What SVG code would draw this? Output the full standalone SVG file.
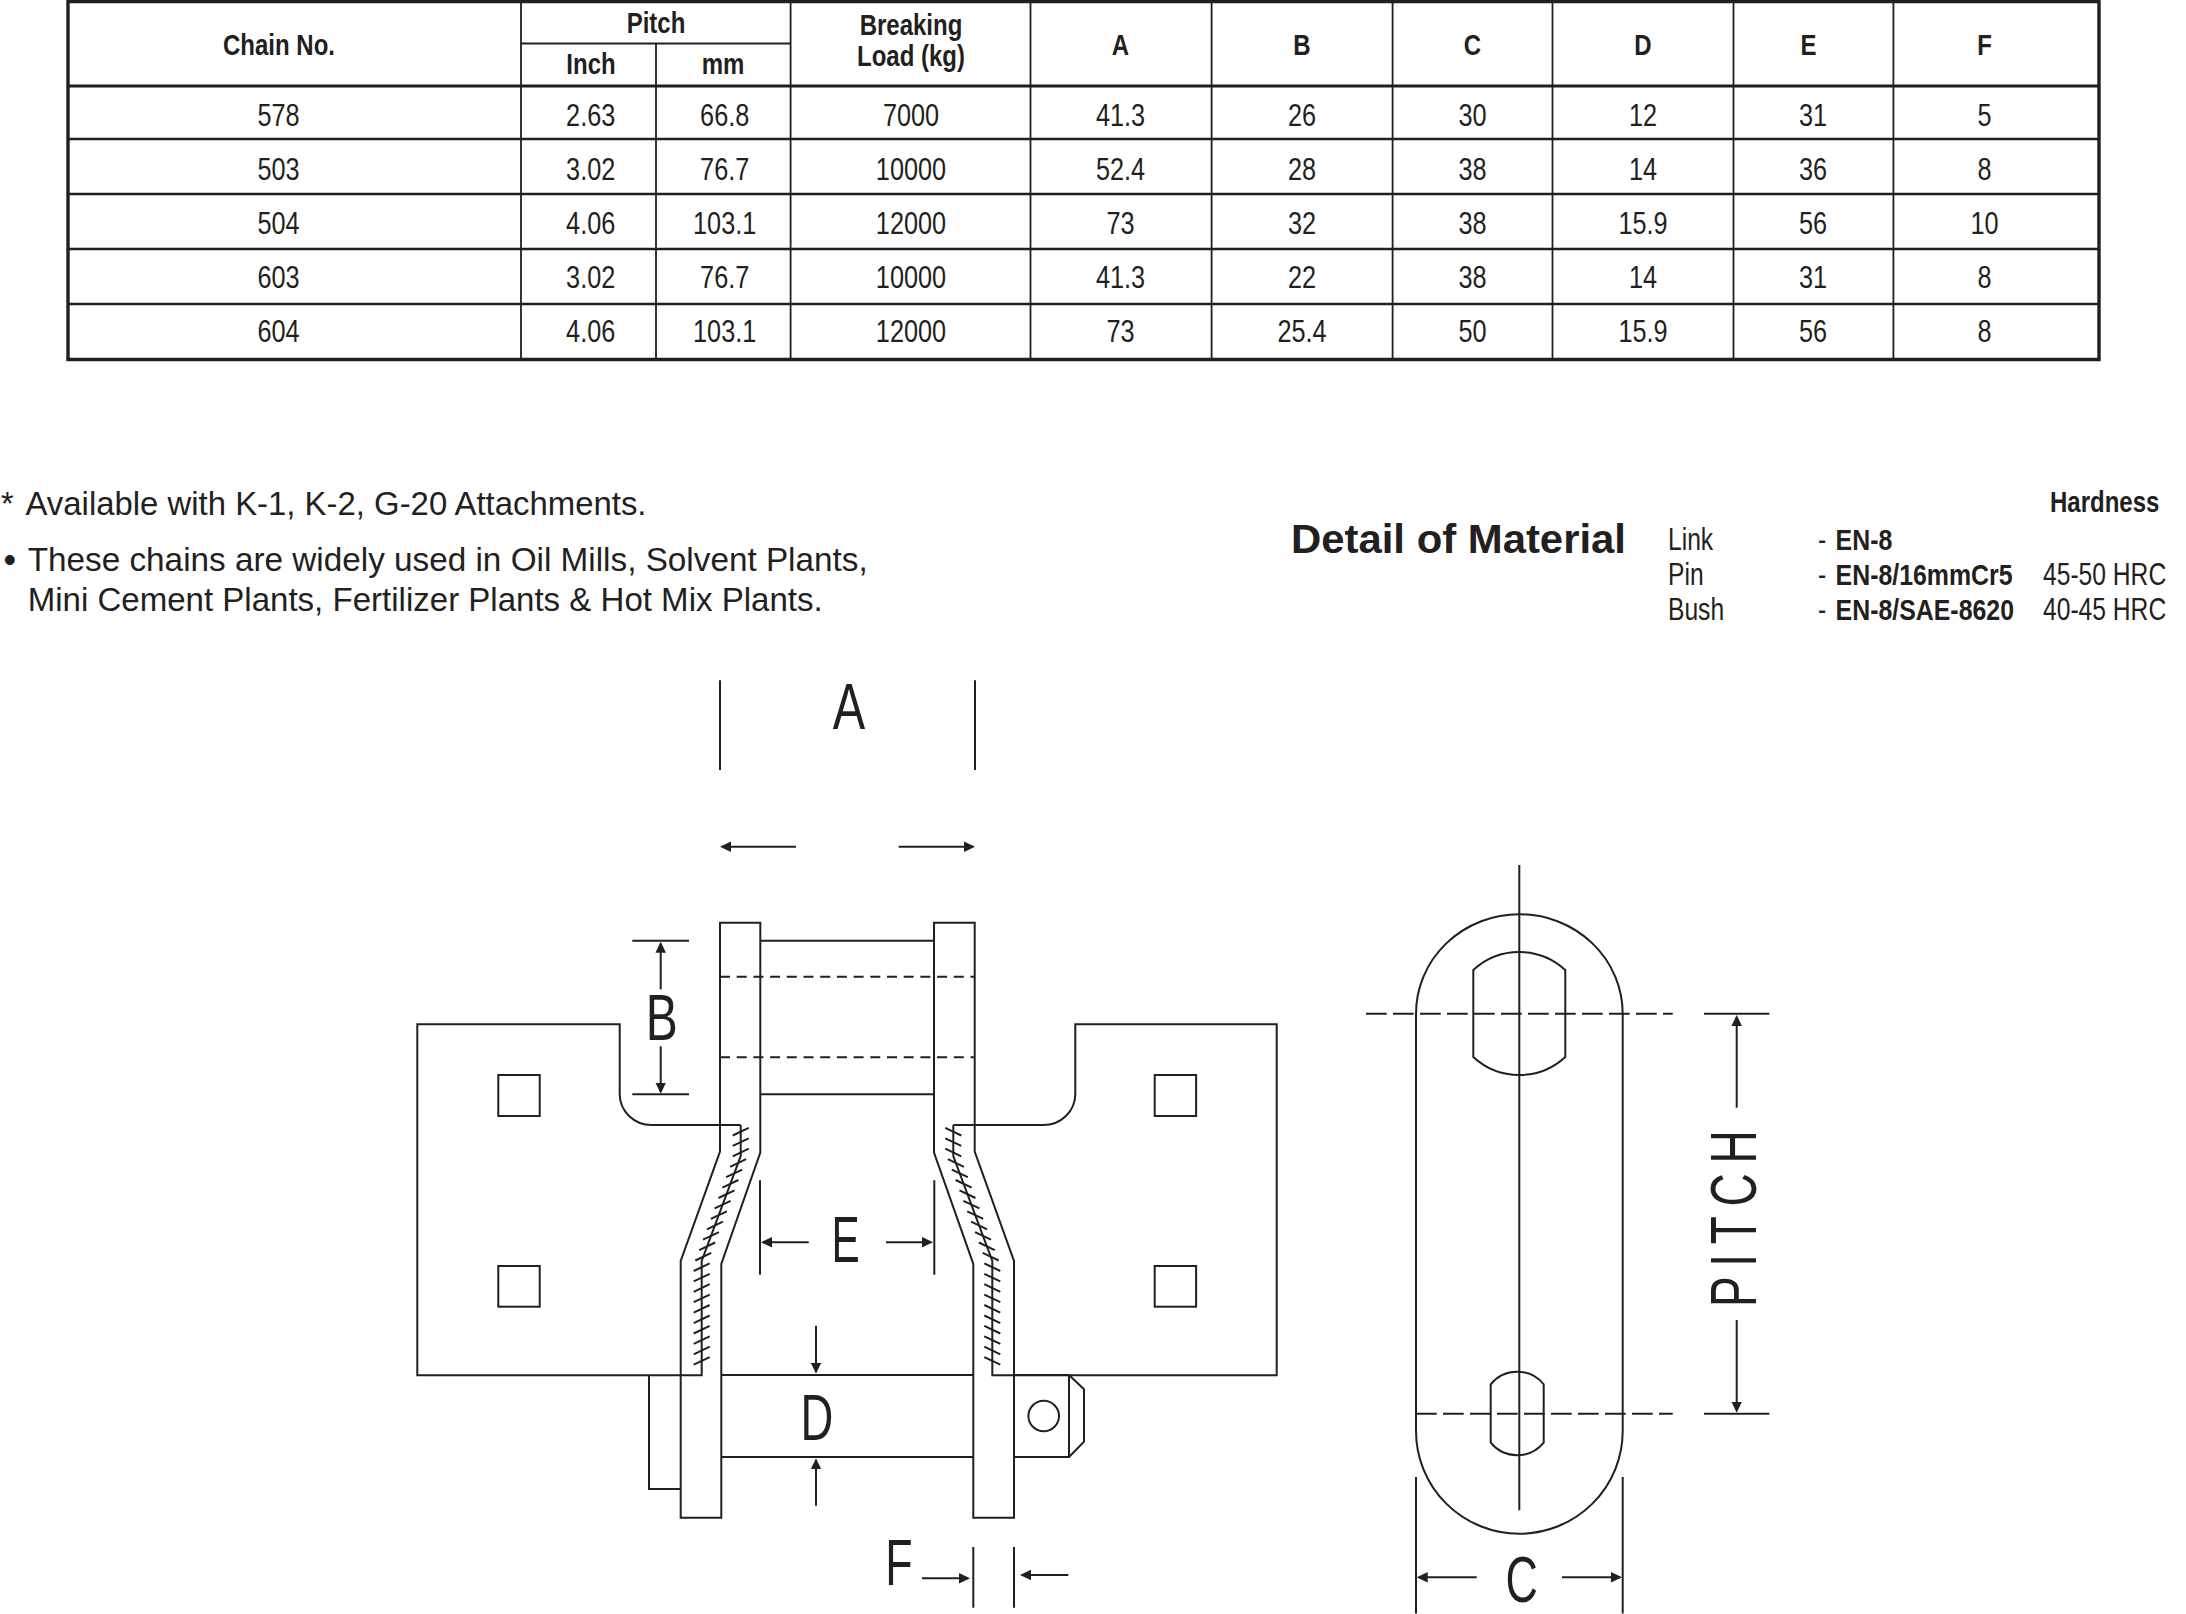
<svg xmlns="http://www.w3.org/2000/svg" width="2186" height="1614" viewBox="0 0 2186 1614">
<style>
text{fill:#231f20;font-family:"Liberation Sans",Arial,sans-serif;transform-box:fill-box;transform-origin:50% 50%}
.c{text-anchor:middle}
.l{transform-origin:0 50%}
.h{font-size:30px;font-weight:700;transform:scaleX(.8)}
.d{font-size:32px;transform:scaleX(.79)}
.n{font-size:32.5px}
.m{font-size:32px;transform:scaleX(.77)}
.b{font-size:30px;font-weight:700;transform:scaleX(.83)}
.dim{font-size:64px}
.s,.t{fill:none;stroke:#231f20;stroke-width:2}
.dash1{stroke-dasharray:10 6.7}
.dash2{stroke-dasharray:20.7 6.3}
.arr{fill:none;stroke:#231f20;stroke-width:2;marker-end:url(#ah)}
</style>
<defs>
<marker id="ah" markerUnits="userSpaceOnUse" viewBox="0 0 11 10.5" markerWidth="11" markerHeight="10.5" refX="9" refY="5.25" orient="auto"><path d="M0 0L11 5.25L0 10.5z" fill="#231f20"/></marker>
<path id="hatch" d="M732.7 1134.5l16-7.6M732.7 1144.9l16-7.6M732.7 1155.3l16-7.6M730.1 1165.8l16-7.6M726.2 1176.2l16-7.6M722.4 1186.6l16-7.6M718.5 1197l16-7.6M714.6 1207.4l16-7.6M710.8 1217.9l16-7.6M706.9 1228.3l16-7.6M703 1238.7l16-7.6M699.2 1249.1l16-7.6M695.3 1259.5l16-7.6M693.7 1270l16-7.6M693.7 1280.4l16-7.6M693.7 1290.8l16-7.6M693.7 1301.2l16-7.6M693.7 1311.6l16-7.6M693.7 1322.1l16-7.6M693.7 1332.5l16-7.6M693.7 1342.9l16-7.6M693.7 1353.3l16-7.6M693.7 1363.7l16-7.6" fill="none" stroke="#231f20" stroke-width="2"/>
</defs>
<rect width="2186" height="1614" fill="#fff"/>

<g id="spec-table">
<path d="M68 1.5H2099V359.5H68Z" fill="none" stroke="#231f20" stroke-width="3.4"/>
<path d="M68 86H2099" fill="none" stroke="#231f20" stroke-width="3.2"/>
<path d="M68 139H2099M68 194H2099M68 249H2099M68 304H2099" fill="none" stroke="#231f20" stroke-width="2.4"/>
<path d="M521 1V360M790.6 1V360M1030.5 1V360M1211.6 1V360M1392.6 1V360M1552.5 1V360M1733.5 1V360M1893.4 1V360M656 43.5V360M521 43.5H790.6" fill="none" stroke="#231f20" stroke-width="1.8"/>
<text class="h c" x="279" y="55">Chain No.</text>
<text class="h c" x="656" y="33">Pitch</text>
<text class="h c" x="591" y="74">Inch</text>
<text class="h c" x="723" y="74">mm</text>
<text class="h c" x="911" y="35">Breaking</text>
<text class="h c" x="911" y="66.5">Load (kg)</text>
<text class="h c" x="1120.5" y="55">A</text>
<text class="h c" x="1302" y="55">B</text>
<text class="h c" x="1472.5" y="55">C</text>
<text class="h c" x="1643" y="55">D</text>
<text class="h c" x="1808.5" y="55">E</text>
<text class="h c" x="1984.6" y="55">F</text>
<g>
<text x="278.5" y="126" class="d c">578</text><text x="590.7" y="126" class="d c">2.63</text><text x="724.7" y="126" class="d c">66.8</text><text x="911" y="126" class="d c">7000</text><text x="1120.5" y="126" class="d c">41.3</text><text x="1302" y="126" class="d c">26</text><text x="1472.5" y="126" class="d c">30</text><text x="1643" y="126" class="d c">12</text><text x="1813" y="126" class="d c">31</text><text x="1984.6" y="126" class="d c">5</text>
<text x="278.5" y="180" class="d c">503</text><text x="590.7" y="180" class="d c">3.02</text><text x="724.7" y="180" class="d c">76.7</text><text x="911" y="180" class="d c">10000</text><text x="1120.5" y="180" class="d c">52.4</text><text x="1302" y="180" class="d c">28</text><text x="1472.5" y="180" class="d c">38</text><text x="1643" y="180" class="d c">14</text><text x="1813" y="180" class="d c">36</text><text x="1984.6" y="180" class="d c">8</text>
<text x="278.5" y="234.5" class="d c">504</text><text x="590.7" y="234.5" class="d c">4.06</text><text x="724.7" y="234.5" class="d c">103.1</text><text x="911" y="234.5" class="d c">12000</text><text x="1120.5" y="234.5" class="d c">73</text><text x="1302" y="234.5" class="d c">32</text><text x="1472.5" y="234.5" class="d c">38</text><text x="1643" y="234.5" class="d c">15.9</text><text x="1813" y="234.5" class="d c">56</text><text x="1984.6" y="234.5" class="d c">10</text>
<text x="278.5" y="288.5" class="d c">603</text><text x="590.7" y="288.5" class="d c">3.02</text><text x="724.7" y="288.5" class="d c">76.7</text><text x="911" y="288.5" class="d c">10000</text><text x="1120.5" y="288.5" class="d c">41.3</text><text x="1302" y="288.5" class="d c">22</text><text x="1472.5" y="288.5" class="d c">38</text><text x="1643" y="288.5" class="d c">14</text><text x="1813" y="288.5" class="d c">31</text><text x="1984.6" y="288.5" class="d c">8</text>
<text x="278.5" y="342.5" class="d c">604</text><text x="590.7" y="342.5" class="d c">4.06</text><text x="724.7" y="342.5" class="d c">103.1</text><text x="911" y="342.5" class="d c">12000</text><text x="1120.5" y="342.5" class="d c">73</text><text x="1302" y="342.5" class="d c">25.4</text><text x="1472.5" y="342.5" class="d c">50</text><text x="1643" y="342.5" class="d c">15.9</text><text x="1813" y="342.5" class="d c">56</text><text x="1984.6" y="342.5" class="d c">8</text>
</g>
</g>

<g id="notes">
<text class="n" x="1" y="514.5">*</text>
<text class="n" x="25.5" y="514.5" textLength="621" lengthAdjust="spacingAndGlyphs">Available with K-1, K-2, G-20 Attachments.</text>
<text x="3.4" y="571.5" style="font-size:36px">•</text>
<text class="n" x="27.7" y="570.5" textLength="840" lengthAdjust="spacingAndGlyphs">These chains are widely used in Oil Mills, Solvent Plants,</text>
<text class="n" x="27.7" y="610.5" textLength="795" lengthAdjust="spacingAndGlyphs">Mini Cement Plants, Fertilizer Plants &amp; Hot Mix Plants.</text>
</g>

<g id="material">
<text x="1291" y="552.5" textLength="335" lengthAdjust="spacingAndGlyphs" style="font-weight:700;font-size:41px">Detail of Material</text>
<text class="h l" x="2050" y="512">Hardness</text>
<text class="m l" x="1668" y="550">Link</text>
<text class="m l" x="1668" y="585">Pin</text>
<text class="m l" x="1668" y="620">Bush</text>
<text class="m l" x="1818" y="550">-</text>
<text class="m l" x="1818" y="585">-</text>
<text class="m l" x="1818" y="620">-</text>
<text class="b l" x="1835.6" y="550">EN-8</text>
<text class="b l" x="1835.6" y="585">EN-8/16mmCr5</text>
<text class="b l" x="1835.6" y="620">EN-8/SAE-8620</text>
<text class="m l" x="2043" y="585">45-50 HRC</text>
<text class="m l" x="2043" y="620">40-45 HRC</text>
</g>

<g id="chain-side-view" transform="translate(0 1)">
<g id="bush">
<path class="s" d="M760.3 939.7H934M760.3 1093.3H934"/>
<path class="s dash1" d="M720 975.7H975M720 1056.3H975"/>
</g>
<g id="pin">
<path class="s" d="M721.3 1374H973.3M721.3 1456H973.3M1014 1456H1069V1374M1014 1374H1069L1084 1388.3V1440.7L1069 1456M649 1374.3V1488H680.7"/>
<circle class="s" cx="1043.7" cy="1415" r="15.3"/>
</g>
<g id="left-link"><path class="s" d="M760.3 1151.7V921.7H720V1150.7L680.7 1260V1516.7H721.3V1263L760.3 1151.7Z"/></g>
<g id="right-link"><path class="s" d="M934 1151.7V921.7H974.7V1150.7L1014 1260V1516.7H973.3V1263L934 1151.7Z"/></g>
<g id="left-plate">
<path class="s" d="M740.7 1124H651.7A32 31 0 0 1 619.7 1093V1023.3H417.3V1374.3H701.7V1260L740.7 1155V1124"/>
<rect class="s" x="498.3" y="1074" width="41.4" height="41"/>
<rect class="s" x="498.3" y="1265" width="41.4" height="40.7"/>
<use href="#hatch"/>
</g>
<g id="right-plate">
<path class="s" d="M953.3 1124H1043.3A32 31 0 0 0 1075.3 1093V1023.3H1276.7V1374.3H992.3V1260L953.3 1155V1124"/>
<rect class="s" x="1154.7" y="1074" width="41.4" height="41"/>
<rect class="s" x="1154.7" y="1265" width="41.4" height="40.7"/>
<use href="#hatch" transform="translate(1694 0) scale(-1 1)"/>
</g>
</g>

<g id="link-front-view" transform="translate(0 1)">
<path class="s" d="M1416 1012.7A103.3 99.4 0 0 1 1622.7 1012.7V1430A103.3 102.7 0 0 1 1416 1430Z"/>
<path class="s" d="M1473.3 969A67.8 67.8 0 0 1 1565.3 969V1056A67.8 67.8 0 0 1 1473.3 1056Z"/>
<path class="s" d="M1490.7 1383.3A34.2 34.2 0 0 1 1543.7 1383.3V1441.7A34.2 34.2 0 0 1 1490.7 1441.7Z"/>
<path class="s" d="M1519.3 864V1509.3"/>
<path class="s dash2" d="M1366 1012.7H1672.7M1416 1412.7H1672.7"/>
</g>

<g id="connectors" transform="translate(0 1)">
<path class="s" d="M720 679.3V769M975 679.3V769M632.3 939.7H689M632.3 1093.3H689M760 1179.3V1273.7M934.3 1179.3V1273.7M973.3 1546V1606.7M1014 1546V1606.7M1704 1012.7H1769.3M1704 1412.7H1769.3M1416 1476V1612.5M1622.7 1476V1612.5"/>
<path class="arr" d="M796 845.7H722"/>
<path class="arr" d="M898.7 845.7H973"/>
<path class="arr" d="M660.7 988.3V942.7"/>
<path class="arr" d="M660.7 1045.3V1090.7"/>
<path class="arr" d="M808.7 1241.3H763"/>
<path class="arr" d="M886 1241.3H931"/>
<path class="arr" d="M816 1324.7V1370.7"/>
<path class="arr" d="M816 1504.7V1459.3"/>
<path class="arr" d="M922 1577.3H968"/>
<path class="arr" d="M1068.3 1574H1022"/>
<path class="arr" d="M1736.7 1106.7V1016"/>
<path class="arr" d="M1736.7 1319V1409.7"/>
<path class="arr" d="M1476.7 1576.3H1418.7"/>
<path class="arr" d="M1562 1576.3H1620"/>
</g>

<g id="dimension-labels" transform="translate(0 1)">
<text class="dim c" x="849" y="728.3" style="transform:scaleX(.76)">A</text>
<text class="dim c" x="661.7" y="1039" style="transform:scaleX(.75)">B</text>
<text class="dim c" x="1521.7" y="1601" style="transform:scaleX(.7)">C</text>
<text class="dim c" x="817" y="1439" style="transform:scaleX(.71)">D</text>
<text class="dim c" x="845.7" y="1261" style="transform:scaleX(.66)">E</text>
<text class="dim c" x="899" y="1584" style="transform:scaleX(.7)">F</text>
<g transform="translate(1756 1306) rotate(-90) scale(.72 1)"><text class="dim" x="0" y="0" style="letter-spacing:13.4px">PITCH</text></g>
</g>
</svg>
